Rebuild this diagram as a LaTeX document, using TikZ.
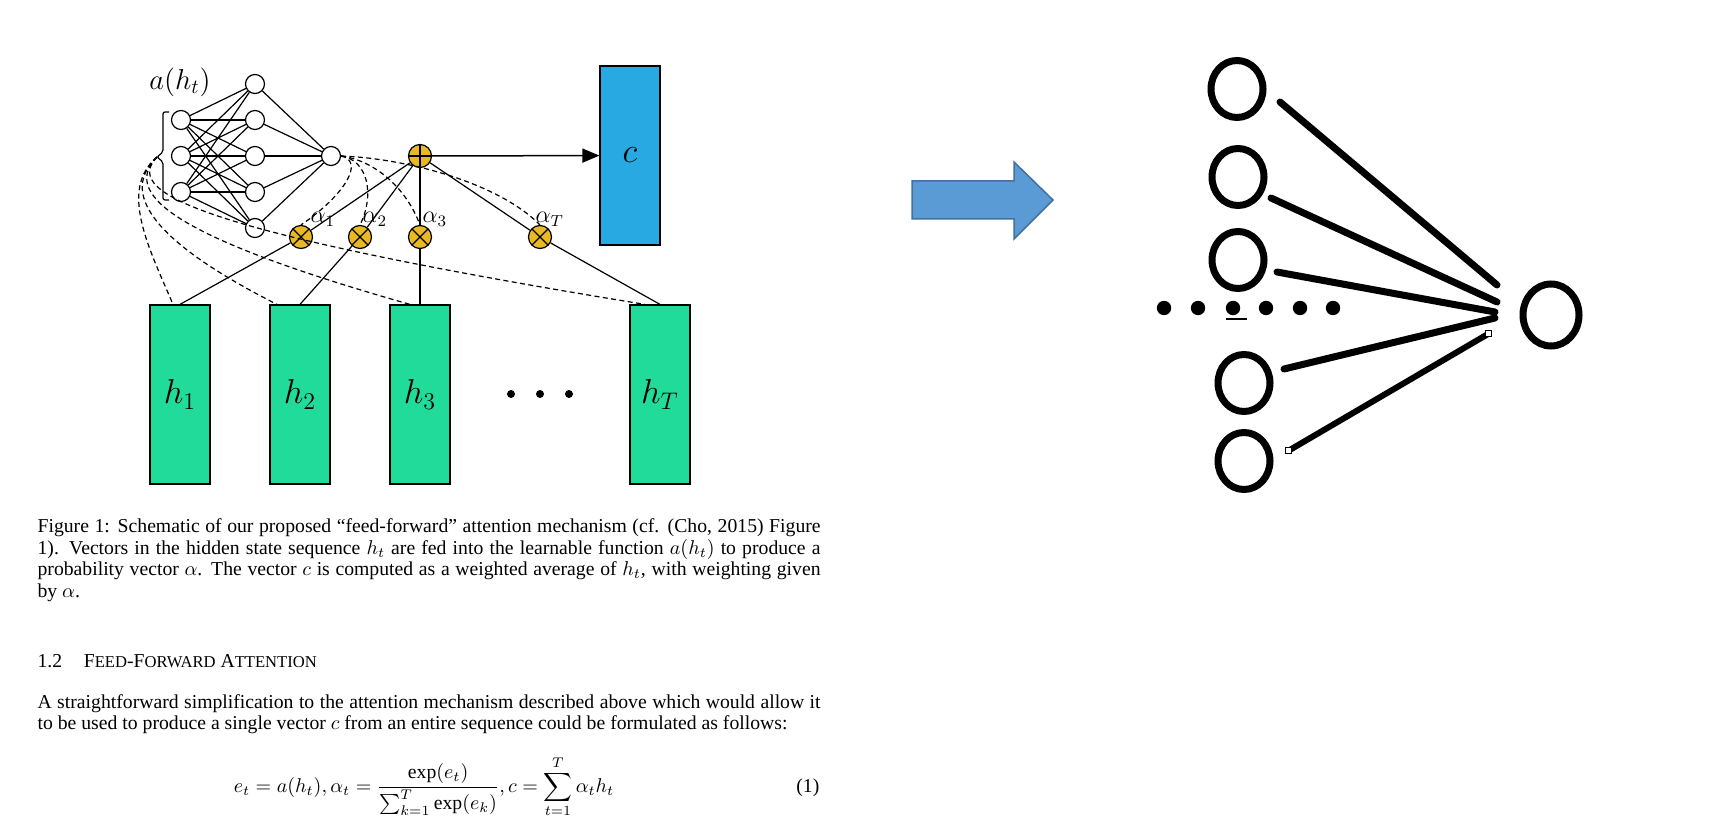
\documentclass[tikz,border=0pt]{standalone}
\usepackage{fontspec}
\setmainfont{Liberation Serif}
\usetikzlibrary{arrows.meta,shapes.geometric}
\definecolor{opgold}{RGB}{233,185,37}
\definecolor{cblue}{RGB}{41,169,225}
\definecolor{hgreen}{RGB}{33,219,154}
\definecolor{arrfill}{RGB}{91,155,213}
\definecolor{arrline}{RGB}{65,113,156}
\newcommand{\capsmall}{\fontsize{8.3}{9}\selectfont}

\begin{document}
\begin{tikzpicture}[x=0.5pt,y=-0.5pt,line width=0.6pt,
  neuron/.style={draw,circle,fill=white,minimum size=9.5pt,inner sep=0pt},
  opnode/.style={draw,circle,fill=opgold,minimum size=11.5pt,inner sep=0pt},
  plusop/.style={opnode,path picture={\draw (path picture bounding box.north) -- (path picture bounding box.south) (path picture bounding box.west) -- (path picture bounding box.east);}},
  timesop/.style={opnode,path picture={\draw (path picture bounding box.north west) -- (path picture bounding box.south east) (path picture bounding box.north east) -- (path picture bounding box.south west);}},
  vecbox/.style={draw,minimum width=30pt,minimum height=89.5pt,inner sep=0pt,font=\fontsize{17}{20}\selectfont},
  attline/.style={dash pattern=on 2.5pt off 1.7pt},
  bodytext/.style={inner sep=0pt,font=\fontsize{9.85}{10.67}\selectfont},
  blob/.style={draw,ellipse,line width=3.5pt,minimum width=26pt,minimum height=28.5pt,inner sep=0pt},
  spoke/.style={line width=3.5pt,line cap=round}]
\path[use as bounding box,fill=white] (0,0) rectangle (1725,823);
\foreach \i/\y in {1/120,2/156,3/192} \node[neuron] (in\i) at (181,\y) {};
\foreach \j/\y in {1/84,2/120,3/156,4/192,5/228} \node[neuron] (hid\j) at (255,\y) {};
\node[neuron] (out) at (331,156) {};
\foreach \i in {1,2,3} \foreach \j in {1,...,5} \draw (in\i) -- (hid\j);
\foreach \j in {1,...,5} \draw (hid\j) -- (out);
\node[font=\fontsize{14.4}{16}\selectfont] (alab) at (180,82) {$a(h_t)$};
\draw[rounded corners=1pt] (169,112) -- (163,112) -- (163,152) -- (157,157) -- (163,162) -- (163,200) -- (169,200);
\coordinate (brtip) at (157,157);
\node[plusop] (sum) at (420,156) {};
\node[vecbox,fill=cblue] (c) at (630,155.5) {$c$};
\foreach \k/\x in {1/301,2/360,3/420,T/540} \node[timesop] (m\k) at (\x,237) {};
\foreach \k/\x in {1/180,2/300,3/420,T/660} \node[vecbox,fill=hgreen] (h\k) at (\x,394.5) {$h_\k$};
\foreach \k/\x in {1/310,2/362,3/422,T/535} \node[font=\fontsize{12}{14}\selectfont,anchor=base west,inner sep=0pt] (al\k) at (\x,223) {$\alpha_\k$};
\foreach \k in {1,2,3,T} {\draw (sum) -- (m\k); \draw (m\k) -- (h\k.north);}
\draw[line width=0.75pt,-{Triangle[length=8.5pt,width=7pt]}] (sum) -- (c);
\foreach \k/\dx/\ax/\ay/\bx/\by in {1/-3.5/118/190/150/250,2/-11.5/120/192/150/240,3/-5/123/192/165/235,T/-7.5/126/190/175/228}
  \draw[attline] (brtip) .. controls (\ax,\ay) and (\bx,\by) .. ([xshift=\dx pt]h\k.north);
\foreach \k/\ax/\ay/\bx/\by in {1/365/161/345/195,2/368/160/375/195,3/372/160/405/185,T/400/158/495/180}
  \draw[attline] (out.east) .. controls (\ax,\ay) and (\bx,\by) .. (m\k.north);
\foreach \x in {511,540,569} \fill (\x,394) circle (2pt);
\node[bodytext,anchor=base west,text width=391.5pt,align=justify] (cap) at (37,533) {Figure 1: Schematic of our proposed “feed-forward” attention mechanism (cf. (Cho, 2015) Figure\linebreak 1). Vectors in the hidden state sequence $h_t$ are fed into the learnable function $a(h_t)$ to produce a\linebreak probability vector $\alpha$. The vector $c$ is computed as a weighted average of $h_t$, with weighting given\linebreak by $\alpha$.};
\node[bodytext,anchor=base west] (sec) at (37,667) {1.2\hspace{1.1em}F{\capsmall EED}-F{\capsmall ORWARD} A{\capsmall TTENTION}};
\node[bodytext,anchor=base west,text width=391.5pt,align=justify] (para) at (37,708) {A straightforward simplification to the attention mechanism described above which would allow it\linebreak to be used to produce a single vector $c$ from an entire sequence could be formulated as follows:};
\node[bodytext,anchor=base] (eq) at (424,792) {$\displaystyle e_t = a(h_t), \alpha_t = \frac{\exp(e_t)}{\sum_{k=1}^{T}\exp(e_k)}, c = \sum_{t=1}^{T}\alpha_t h_t$};
\node[bodytext,anchor=base east] (eqno) at (820,792) {(1)};
\draw[fill=arrfill,draw=arrline,line width=0.75pt] (912,181) -- (1014,181) -- (1014,162) -- (1053,200) -- (1014,239) -- (1014,219) -- (912,219) -- cycle;
\foreach \k/\x/\y in {1/1237/89,2/1238/177,3/1238/260,4/1244/383,5/1244/461} \node[blob] (v\k) at (\x,\y) {};
\node[blob,minimum width=28pt,minimum height=31pt] (vout) at (1551,315) {};
\foreach \sx/\sy/\ex/\ey in {1280/102/1497/285,1271/198/1497/302,1277/272/1495/312,1284/369/1495/318}
  \draw[spoke] (\sx,\sy) -- (\ex,\ey);
\draw[spoke,line width=3pt] (1288,451) -- (1488,334);
\foreach \x/\y in {1288/451,1488/334} \draw[fill=white,line width=0.5pt] (\x,\y) ++(-3,-3) rectangle ++(6,6);
\foreach \x in {1164,1198,1233,1266,1300,1333} \fill (\x,308) circle (3.6pt);
\draw[line width=1pt] (1226,319) -- (1247,319);
\end{tikzpicture}
\end{document}
